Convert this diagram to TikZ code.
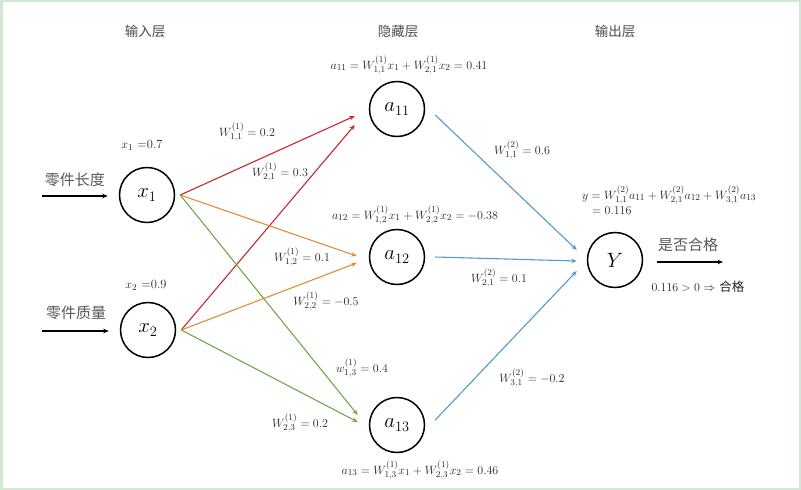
\documentclass[tikz,border=0pt]{standalone}
\usepackage{fontspec}
\newfontfamily\cjk{Noto Sans CJK SC}
\usetikzlibrary{arrows.meta}

\definecolor{framegreen}{RGB}{208,232,212}
\definecolor{wred}{RGB}{200,40,45}
\definecolor{worange}{RGB}{228,140,60}
\definecolor{wgreen}{RGB}{112,168,72}
\definecolor{wblue}{RGB}{85,155,205}

\tikzset{
  neuron/.style={circle, draw=black, line width=1.5pt, minimum size=55pt, inner sep=0pt, font=\fontsize{21}{23}\selectfont},
  wlabel/.style={text=black!85, font=\fontsize{12.5}{14}\selectfont, inner sep=1pt},
  layername/.style={text=black!70, font=\cjk\fontsize{13.5}{15}\selectfont},
  featname/.style={text=black!65, font=\cjk\fontsize{15}{17}\selectfont},
  wire/.style={line width=1.1pt, -{Stealth[length=5.5pt,width=4.5pt]}},
  feed/.style={line width=1.2pt, -{Stealth[length=5.5pt,width=4.5pt]}}
}

\begin{document}
\begin{tikzpicture}[x=1pt, y=-1pt]
    \useasboundingbox (0,0) rectangle (801,490);
    % 边框
    \fill[framegreen] (0,0) rectangle (801,490);
    \fill[white] (3,2) rectangle (799,488);

    % 层名
    \node[layername] (inname)  at (145,31) {输入层};
    \node[layername] (hidname) at (398,31) {隐藏层};
    \node[layername] (outname) at (615,31) {输出层};

    % 神经元
    \node[neuron] (x1)  at (147,195) {$x_1$};
    \node[neuron] (x2)  at (148,330) {$x_2$};
    \node[neuron] (a11) at (397,109) {$a_{11}$};
    \node[neuron] (a12) at (397,257) {$a_{12}$};
    \node[neuron] (a13) at (397,425) {$a_{13}$};
    \node[neuron] (Y)   at (615,260) {$Y$};

    % 输入
    \coordinate (in1) at (42,196);
    \coordinate (in2) at (42,331);
    \draw[feed] (in1) -- ([xshift=-11pt,yshift=-1pt]x1.west);
    \draw[feed] (in2) -- ([xshift=-11pt,yshift=-1pt]x2.west);
    \node[featname] (f1) at (75,180) {零件长度};
    \node[featname] (f2) at (76,313) {零件质量};
    \node[wlabel] (vx1) at (142,145) {$x_1$ =0.7};
    \node[wlabel] (vx2) at (146,285) {$x_2$ =0.9};

    % 第一层权重
    \draw[wire, wred]    ([xshift=5pt]x1.east) -- ([xshift=-14pt,yshift=-7pt]a11.west);
    \draw[wire, wred]    ([xshift=5pt]x2.east) -- ([xshift=-14pt,yshift=-16pt]a11.west);
    \draw[wire, worange] ([xshift=5pt]x1.east) -- ([xshift=-12pt,yshift=1pt]a12.west);
    \draw[wire, worange] ([xshift=5pt]x2.east) -- ([xshift=-12pt,yshift=-6pt]a12.west);
    \draw[wire, wgreen]  ([xshift=5pt]x1.east) -- ([xshift=-11pt,yshift=10pt]a13.west);
    \draw[wire, wgreen]  ([xshift=5pt]x2.east) -- ([xshift=-11pt,yshift=3pt]a13.west);

    \node[wlabel] (w11) at (247,132) {$W^{(1)}_{1,1} = 0.2$};
    \node[wlabel] (w21) at (280,172) {$W^{(1)}_{2,1} = 0.3$};
    \node[wlabel] (w12) at (302,257) {$W^{(1)}_{1,2} = 0.1$};
    \node[wlabel] (w22) at (326,301) {$W^{(1)}_{2,2} = -0.5$};
    \node[wlabel] (w13) at (362,368) {$w^{(1)}_{1,3} = 0.4$};
    \node[wlabel] (w23) at (300,423) {$W^{(1)}_{2,3} = 0.2$};

    % 隐藏层计算
    \node[wlabel] (eq11) at (409,65)  {$a_{11} = W^{(1)}_{1,1}x_1 + W^{(1)}_{2,1}x_2 = 0.41$};
    \node[wlabel] (eq12) at (415,215) {$a_{12} = W^{(1)}_{1,2}x_1 + W^{(1)}_{2,2}x_2 = -0.38$};
    \node[wlabel] (eq13) at (420,470) {$a_{13} = W^{(1)}_{1,3}x_1 + W^{(1)}_{2,3}x_2 = 0.46$};

    % 第二层权重
    \draw[wire, wblue] ([xshift=10pt,yshift=-6pt]a11.east) -- ([xshift=-10pt,yshift=10pt]Y.west);
    \draw[wire, wblue] ([xshift=10pt]a12.east) -- ([xshift=-10pt,yshift=-1pt]Y.west);
    \draw[wire, wblue] ([xshift=10pt,yshift=5pt]a13.east) -- ([xshift=-10pt,yshift=-11pt]Y.west);

    \node[wlabel] (v11) at (522,150) {$W^{(2)}_{1,1} = 0.6$};
    \node[wlabel] (v21) at (499,278) {$W^{(2)}_{2,1} = 0.1$};
    \node[wlabel] (v31) at (532,378) {$W^{(2)}_{3,1} = -0.2$};

    % 输出
    \node[wlabel, anchor=west] (yeq)  at (581,195) {$y = W^{(2)}_{1,1}a_{11} + W^{(2)}_{2,1}a_{12} + W^{(2)}_{3,1}a_{13}$};
    \node[wlabel, anchor=west] (yval) at (591,211) {$= 0.116$};
    \coordinate (out) at (723,262);
    \draw[feed] ([xshift=14pt,yshift=-2pt]Y.east) -- (out);
    \node[featname] (judge) at (688,245) {是否合格};
    \node[wlabel] (result) at (698,287) {$0.116 > 0 \Rightarrow$ {\cjk 合格}};
\end{tikzpicture}
\end{document}
